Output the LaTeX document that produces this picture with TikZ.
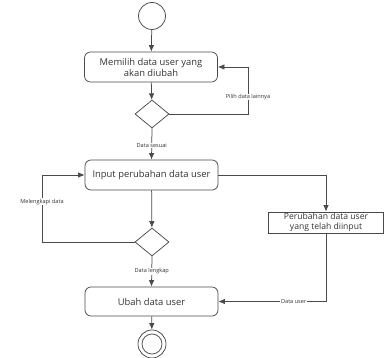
\documentclass[tikz,border=0pt]{standalone}
\usepackage{fontspec}
\setmainfont{Open Sans}
\usetikzlibrary{shapes.geometric,arrows.meta}
\definecolor{ink}{HTML}{333333}
\definecolor{edge}{HTML}{4A4A4A}
\begin{document}
\begin{tikzpicture}[x=1pt,y=-1pt,
  activity/.style={draw=edge,line width=0.75pt,rounded corners=6pt,minimum width=133pt,minimum height=30pt,inner sep=0pt,align=center,font=\fontsize{9.4}{11}\selectfont,text=ink},
  objbox/.style={draw=edge,line width=0.75pt,minimum width=115pt,minimum height=21pt,inner sep=0pt,align=center,font=\fontsize{8.6}{9.8}\selectfont,text=ink},
  decision/.style={draw=edge,line width=0.75pt,diamond,aspect=1.2,minimum width=34pt,minimum height=28pt,inner sep=0pt},
  flow/.style={draw=edge,line width=0.75pt,-{Latex[length=6.5pt,width=5.5pt]}},
  lbl/.style={fill=white,inner sep=0.6pt,font=\fontsize{5.6}{6.5}\selectfont,text=ink}]
\useasboundingbox (0,0) rectangle (386,358);

% nodes
\node[draw=edge,line width=0.75pt,circle,minimum size=27pt,inner sep=0pt] (start) at (152,16) {};
\node[activity] (pilih) at (151,67) {Memilih data user yang\\akan diubah};
\node[decision] (d1) at (152,114) {};
\node[activity] (input) at (151.5,175) {Input perubahan data user};
\node[decision] (d2) at (152,242) {};
\node[objbox] (obj) at (326,222.5) {Perubahan data user\\yang telah diinput};
\node[activity,minimum height=29pt] (ubah) at (151.5,301.5) {Ubah data user};
\node[draw=edge,line width=0.75pt,circle,minimum size=28pt,inner sep=0pt] (end) at (152,344) {};
\node[draw=edge,line width=0.75pt,circle,minimum size=20pt,inner sep=0pt] (endin) at (152,344) {};

% loop corners
\coordinate (c1) at (248,114);
\coordinate (c2) at (248,67);
\coordinate (c3) at (42,242);
\coordinate (c4) at (42,175);
\coordinate (c5) at (326,175);
\coordinate (c6) at (326,301.5);

% connectors
\draw[flow] (start) -- (pilih);
\draw[flow] (pilih) -- (d1);
\draw[flow] (d1.east) -- (c1) -- node[lbl,pos=0.36] {Pilih data lainnya} (c2) -- (pilih.east);
\draw[flow] (d1.south) -- node[lbl,pos=0.55] {Data sesuai} (input.north);
\draw[flow] (input) -- (d2);
\draw[flow] (d2.west) -- (c3) -- node[lbl,pos=0.6] {Melengkapi data} (c4) -- (input.west);
\draw[flow] (input.east) -- (c5) -- (obj.north);
\draw[flow] (obj.south) -- (c6) -- node[lbl,pos=0.3] {Data user} (ubah.east);
\draw[flow] (d2.south) -- node[lbl,pos=0.5] {Data lengkap} (ubah.north);
\draw[flow] (ubah) -- (end);
\end{tikzpicture}
\end{document}
